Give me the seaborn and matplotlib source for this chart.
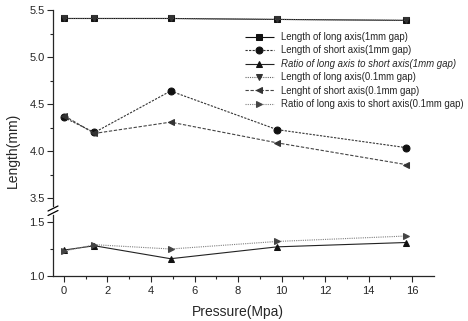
import matplotlib
matplotlib.use("Agg")
import matplotlib.pyplot as plt
import seaborn as sns
import pandas as pd

sns.set_style("ticks")
plt.rcParams["font.family"] = ["Liberation Sans", "DejaVu Sans"]

# Pressure values (MPa)
pressure = [0, 1.4, 4.9, 9.8, 15.7]

# 1 mm gap
long_1mm = [5.41, 5.41, 5.41, 5.40, 5.39]
short_1mm = [4.36, 4.20, 4.64, 4.23, 4.04]
ratio_1mm = [1.24, 1.28, 1.16, 1.27, 1.31]

# 0.1 mm gap
long_01mm = [5.41, 5.41, 5.41, 5.40, 5.39]
short_01mm = [4.38, 4.19, 4.31, 4.09, 3.86]
ratio_01mm = [1.23, 1.29, 1.25, 1.32, 1.37]

labels = [
    "Length of long axis(1mm gap)",
    "Length of short axis(1mm gap)",
    "Ratio of long axis to short axis(1mm gap)",
    "Length of long axis(0.1mm gap)",
    "Lenght of short axis(0.1mm gap)",
    "Ratio of long axis to short axis(0.1mm gap)",
]

W, H = 468, 321
fig = plt.figure(figsize=(W / 100, H / 100), dpi=100)

left, right = 53 / W, 434 / W
ax_top = fig.add_axes([left, 1 - 206 / H, right - left, (206 - 10) / H])
ax_bot = fig.add_axes([left, 1 - 276 / H, right - left, (276 - 215) / H])

series = [
    (ax_top, long_1mm, "s", (0, ()), "#111111", "#111111"),
    (ax_top, short_1mm, "o", (0, (2, 1.2)), "#333333", "#111111"),
    (ax_bot, ratio_1mm, "^", (0, ()), "#222222", "#111111"),
    (ax_top, long_01mm, "v", (0, (1, 1)), "#666666", "#333333"),
    (ax_top, short_01mm, "<", (0, (3, 1.5)), "#444444", "#333333"),
    (ax_bot, ratio_01mm, ">", (0, (1, 1)), "#808080", "#444444"),
]

for (ax, vals, mk, ls, lc, mc), lab in zip(series, labels):
    df = pd.DataFrame({"Pressure": pressure, "Length": vals})
    sns.lineplot(data=df, x="Pressure", y="Length", ax=ax, marker=mk,
                 linestyle=ls, color=lc, markerfacecolor=mc,
                 markeredgecolor=mc, markersize=5, linewidth=0.8,
                 label=lab, legend=False)

for ax in (ax_top, ax_bot):
    ax.set_xlim(-0.5, 17)
    ax.spines["top"].set_visible(False)
    ax.spines["right"].set_visible(False)
    ax.set_xlabel("")
    ax.set_ylabel("")
    ax.tick_params(axis="y", which="major", direction="out", length=4,
                   width=0.8, labelsize=8, pad=2)
    ax.tick_params(axis="y", which="minor", direction="out", length=2.5,
                   width=0.8)
    ax.patch.set_alpha(0)

ax_top.set_ylim(3.42, 5.5)
ax_top.set_yticks([3.5, 4.0, 4.5, 5.0, 5.5])
ax_top.set_yticks([3.75, 4.25, 4.75, 5.25], minor=True)
ax_top.set_yticklabels(["3.5", "4.0", "4.5", "5.0", "5.5"])
ax_top.spines["bottom"].set_visible(False)
ax_top.tick_params(axis="x", which="both", bottom=False, labelbottom=False)

ax_bot.set_ylim(1.0, 1.0 + 61 / 108)
ax_bot.set_yticks([1.0, 1.5])
ax_bot.set_yticks([1.25], minor=True)
ax_bot.set_yticklabels(["1.0", "1.5"])
ax_bot.set_xticks(range(0, 17, 2))
ax_bot.set_xticks(range(1, 17, 2), minor=True)
ax_bot.tick_params(axis="x", which="major", direction="out", length=4,
                   width=0.8, labelsize=8, pad=3)
ax_bot.tick_params(axis="x", which="minor", direction="out", length=2.5,
                   width=0.8)
for sp in ax_bot.spines.values():
    sp.set_linewidth(0.9)
for sp in ax_top.spines.values():
    sp.set_linewidth(0.9)

# Axis break marks on the left spine
for yb in (208.5, 213.0):
    fig.add_artist(plt.Line2D([48 / W, 58 / W], [1 - (yb + 2.5) / H, 1 - (yb - 2.5) / H],
                              color="black", linewidth=0.9))

fig.text(13 / W, 1 - 150 / H, "Length(mm)", rotation=90, ha="center",
         va="center", fontsize=10)
fig.text((64 + 412) / 2 / W, 1 - 312 / H, "Pressure(Mpa)", ha="center",
         va="center", fontsize=10)

handles = []
for ax in (ax_top, ax_bot):
    handles += ax.get_lines()
order = {lab: i for i, lab in enumerate(labels)}
handles = [h for h in handles if h.get_label() in order]
handles = sorted(handles, key=lambda h: order[h.get_label()])
leg = fig.legend(handles=handles, labels=[h.get_label() for h in handles],
                 loc="upper left", bbox_to_anchor=(245 / W, 1 - 32 / H),
                 frameon=False, fontsize=6.9, handlelength=3.0,
                 handletextpad=0.75, labelspacing=0.36, borderpad=0,
                 borderaxespad=0)
leg.get_texts()[2].set_fontstyle("italic")

fig.savefig("out.png", dpi=100)
